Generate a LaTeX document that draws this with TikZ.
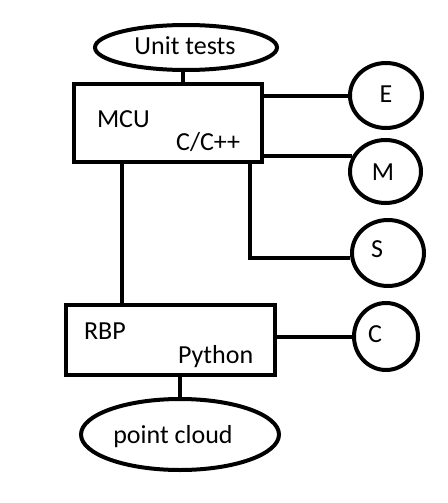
\documentclass[tikz,border=0pt]{standalone}
\usepackage{fontspec}
\setmainfont{Carlito}
\usetikzlibrary{shapes.geometric}
\begin{document}
\begin{tikzpicture}[x=1pt,y=-1pt,line width=4pt,
  box/.style={draw,rectangle,inner sep=0pt,line join=miter},
  oval/.style={draw,ellipse,inner sep=0pt},
  txt/.style={inner sep=0pt,font=\fontsize{26}{31}\selectfont}]
\useasboundingbox[fill=white] (0,0) rectangle (447,503);
% shapes
\node[oval,minimum width=182,minimum height=45] (ut) at (186,47.5) {};
\node[box,minimum width=188,minimum height=78] (mcu) at (168,123) {};
\node[box,minimum width=209,minimum height=70] (rbp) at (170.5,340) {};
\node[oval,minimum width=198,minimum height=71] (pc) at (180,434.5) {};
\node[oval,minimum width=72,minimum height=65] (e) at (386,95.5) {};
\node[oval,minimum width=71,minimum height=63] (m) at (385.5,171.5) {};
\node[oval,minimum width=72,minimum height=66] (s) at (388,253) {};
\node[oval,minimum width=64,minimum height=67] (c) at (386,336.5) {};
% texts
\node[txt,anchor=base] (utt) at (185,55) {Unit tests};
\node[txt,anchor=base west] (mcut) at (95,127) {MCU};
\node[txt,anchor=base east] (cct) at (242,150) {C/C++};
\node[txt,anchor=base west] (rbpt) at (82,339) {RBP};
\node[txt,anchor=base west] (pyt) at (176,363) {Python};
\node[txt,anchor=base] (pct) at (173,443) {point cloud};
\node[txt,anchor=base] (et) at (386,102) {E};
\node[txt,anchor=base] (mt) at (383,180) {M};
\node[txt,anchor=base] (st) at (377,257) {S};
\node[txt,anchor=base] (ct) at (375,342) {C};
% connectors
\draw ([xshift=-3]ut.south) -- ([xshift=-3]ut.south |- mcu.north);
\draw (e.west) -- (e.west -| mcu.east);
\draw (m.155) -- (m.155 -| mcu.east);
\draw ([xshift=-14]mcu.south east) |- (s.187);
\draw ([xshift=-46.5]mcu.south) -- ([xshift=-46.5]mcu.south |- rbp.north);
\draw (c.west) -- (c.west -| rbp.east);
\draw (pc.north) -- (pc.north |- rbp.south);
\end{tikzpicture}
\end{document}
